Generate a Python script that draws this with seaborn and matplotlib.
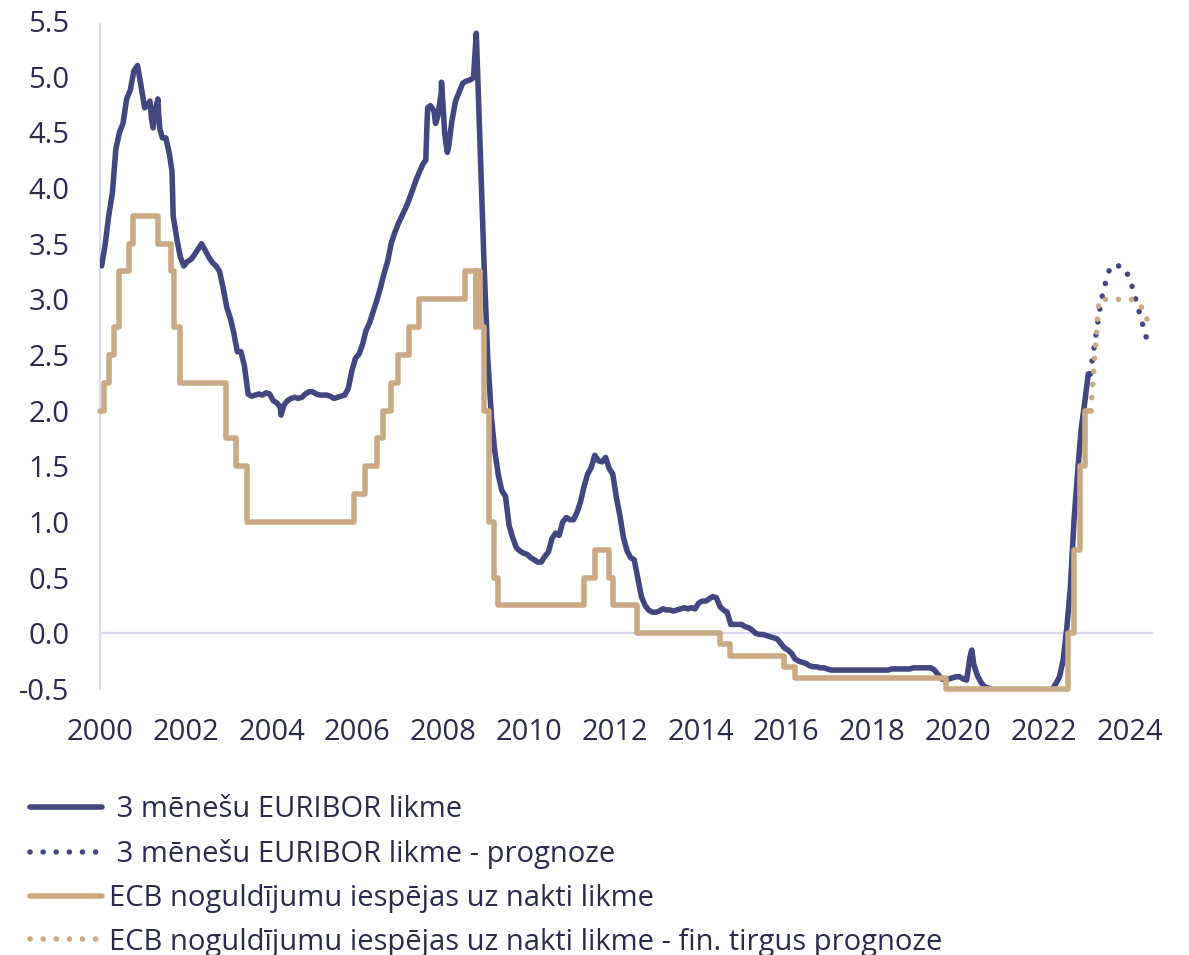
import matplotlib

matplotlib.use("Agg")
import matplotlib.dates as mdates
import matplotlib.pyplot as plt
import pandas as pd
import seaborn as sns
from matplotlib.ticker import FixedLocator, FuncFormatter

NAVY = "#43477f"
TAN = "#c9aa84"
TEXT = "#2b2c4c"
AXIS = "#d9d9ef"

# 3M EURIBOR, monthly (mid-month) readings, Jan 2000 .. Jan 2023
euribor_3m = [
    3.30, 3.50, 3.75, 3.95, 4.35, 4.50, 4.58, 4.80, 4.88, 5.05, 5.10, 4.92,  # 2000
    4.72, 4.76, 4.62, 4.70, 4.65, 4.45, 4.45, 4.30, 3.75, 3.55, 3.38, 3.30,  # 2001
    3.34, 3.36, 3.40, 3.45, 3.50, 3.44, 3.38, 3.33, 3.30, 3.25, 3.10, 2.93,  # 2002
    2.83, 2.69, 2.53, 2.53, 2.40, 2.15, 2.13, 2.14, 2.15, 2.14, 2.16, 2.15,  # 2003
    2.09, 2.07, 2.03, 2.05, 2.09, 2.11, 2.12, 2.11, 2.12, 2.15, 2.17, 2.17,  # 2004
    2.15, 2.14, 2.14, 2.14, 2.13, 2.11, 2.12, 2.13, 2.14, 2.20, 2.36, 2.47,  # 2005
    2.51, 2.60, 2.72, 2.79, 2.89, 2.99, 3.10, 3.23, 3.34, 3.50, 3.60, 3.68,  # 2006
    3.75, 3.82, 3.89, 3.98, 4.07, 4.15, 4.22, 4.54, 4.74, 4.69, 4.64, 4.85,  # 2007
    4.48, 4.36, 4.60, 4.78, 4.86, 4.94, 4.96, 4.97, 4.99, 5.20, 4.24, 3.29,  # 2008
    2.46, 1.94, 1.64, 1.42, 1.28, 1.23, 0.97, 0.86, 0.77, 0.74, 0.72, 0.71,  # 2009
    0.68, 0.66, 0.64, 0.64, 0.69, 0.73, 0.85, 0.90, 0.88, 1.00, 1.04, 1.02,  # 2010
    1.02, 1.09, 1.18, 1.32, 1.43, 1.49, 1.60, 1.55, 1.54, 1.58, 1.48, 1.43,  # 2011
    1.22, 1.05, 0.86, 0.74, 0.68, 0.66, 0.50, 0.33, 0.25, 0.21, 0.19, 0.19,  # 2012
    0.20, 0.22, 0.21, 0.21, 0.20, 0.21, 0.22, 0.23, 0.22, 0.23, 0.22, 0.27,  # 2013
    0.29, 0.29, 0.31, 0.33, 0.32, 0.24, 0.21, 0.19, 0.08, 0.08, 0.08, 0.08,  # 2014
    0.06, 0.05, 0.03, 0.00, -0.01, -0.01, -0.02, -0.03, -0.04, -0.05, -0.09, -0.13,  # 2015
    -0.15, -0.18, -0.23, -0.25, -0.26, -0.27, -0.29, -0.30, -0.30, -0.31, -0.31, -0.32,  # 2016
    -0.33, -0.33, -0.33, -0.33, -0.33, -0.33, -0.33, -0.33, -0.33, -0.33, -0.33, -0.33,  # 2017
    -0.33, -0.33, -0.33, -0.33, -0.33, -0.32, -0.32, -0.32, -0.32, -0.32, -0.32, -0.31,  # 2018
    -0.31, -0.31, -0.31, -0.31, -0.31, -0.33, -0.37, -0.41, -0.42, -0.41, -0.40, -0.39,  # 2019
    -0.39, -0.41, -0.42, -0.20, -0.28, -0.38, -0.44, -0.48, -0.49, -0.51, -0.52, -0.54,  # 2020
    -0.55, -0.54, -0.54, -0.54, -0.54, -0.54, -0.54, -0.55, -0.55, -0.55, -0.57, -0.58,  # 2021
    -0.56, -0.53, -0.50, -0.45, -0.39, -0.24, 0.04, 0.40, 1.01, 1.43, 1.83, 2.07,  # 2022
    2.33,  # 2023
]

# short-lived moves the monthly readings miss
spike_dates = ["2001-03-01", "2001-03-28", "2001-05-08", "2001-05-25", "2001-09-05",
               "2004-03-22", "2007-08-06", "2007-08-22", "2007-10-28", "2007-12-18",
               "2008-02-05", "2008-10-09", "2020-04-28", "2023-01-31"]
spike_values = [4.78, 4.54, 4.80, 4.53, 4.15,
                1.96, 4.25, 4.72, 4.58, 4.95,
                4.32, 5.39, -0.15, 2.33]

euribor_fc_dates = ["2023-01-31", "2023-05-01", "2023-06-20", "2023-07-25",
                    "2023-10-25", "2024-01-01", "2024-06-20"]
euribor_fc_values = [2.33, 2.97, 3.19, 3.30, 3.30, 3.20, 2.55]

# ECB deposit facility rate, change dates
ecb_dates = [
    "2000-01-01", "2000-02-04", "2000-03-17", "2000-04-28", "2000-06-09", "2000-09-01",
    "2000-10-06", "2001-05-11", "2001-08-31", "2001-09-18", "2001-11-09", "2002-12-06",
    "2003-03-07", "2003-06-06", "2005-12-06", "2006-03-08", "2006-06-15", "2006-08-09",
    "2006-10-11", "2006-12-13", "2007-03-14", "2007-06-13", "2008-07-09", "2008-10-08",
    "2008-10-09", "2008-11-12", "2008-12-10", "2009-01-21", "2009-03-11", "2009-04-08",
    "2011-04-13", "2011-07-13", "2011-11-09", "2011-12-14", "2012-07-11", "2014-06-11",
    "2014-09-10", "2015-12-09", "2016-03-16", "2019-09-18", "2022-07-27", "2022-09-14",
    "2022-11-02", "2022-12-21", "2023-02-05",
]
ecb_rate = [
    2.00, 2.25, 2.50, 2.75, 3.25, 3.50,
    3.75, 3.50, 3.25, 2.75, 2.25, 1.75,
    1.50, 1.00, 1.25, 1.50, 1.75, 2.00,
    2.25, 2.50, 2.75, 3.00, 3.25, 2.75,
    3.25, 2.75, 2.00, 1.00, 0.50, 0.25,
    0.50, 0.75, 0.50, 0.25, 0.00, -0.10,
    -0.20, -0.30, -0.40, -0.50, 0.00, 0.75,
    1.50, 2.00, 2.00,
]

ecb_fc_dates = ["2023-02-05", "2023-04-16", "2024-02-05", "2024-04-20", "2024-07-08"]
ecb_fc_values = [2.00, 3.00, 3.00, 2.92, 2.72]

year_ticks = list(range(2000, 2026, 2))
y_ticks = [-0.5, 0.0, 0.5, 1.0, 1.5, 2.0, 2.5, 3.0, 3.5, 4.0, 4.5, 5.0, 5.5]

labels = [
    " 3 mēnešu EURIBOR likme",
    " 3 mēnešu EURIBOR likme - prognoze",
    "ECB noguldījumu iespējas uz nakti likme",
    "ECB noguldījumu iespējas uz nakti likme - fin. tirgus prognoze",
]


def build_frames():
    monthly = pd.DataFrame({
        "date": pd.date_range("2000-01-01", periods=len(euribor_3m), freq="MS")
        + pd.Timedelta(days=14),
        "rate": euribor_3m,
    })
    spikes = pd.DataFrame({"date": pd.to_datetime(spike_dates), "rate": spike_values})
    euribor = pd.concat([monthly, spikes]).sort_values("date").reset_index(drop=True)

    euribor_fc = pd.DataFrame({"date": pd.to_datetime(euribor_fc_dates), "rate": euribor_fc_values})
    ecb = pd.DataFrame({"date": pd.to_datetime(ecb_dates), "rate": ecb_rate})
    ecb_fc = pd.DataFrame({"date": pd.to_datetime(ecb_fc_dates), "rate": ecb_fc_values})
    return euribor, euribor_fc, ecb, ecb_fc


def main():
    sns.set_theme(style="white")
    plt.rcParams["font.family"] = ["Open Sans", "DejaVu Sans"]

    euribor, euribor_fc, ecb, ecb_fc = build_frames()

    fig = plt.figure(figsize=(11.89, 9.55), dpi=100)
    ax = fig.add_axes([100 / 1189, 1 - 689 / 955, 1053 / 1189, 668 / 955])

    lw = 4.0
    dots = (0, (0.01, 2.35))

    ax.axhline(0, color=AXIS, lw=1.6, zorder=1)

    sns.lineplot(data=euribor, x="date", y="rate", ax=ax, color=NAVY, lw=lw,
                 estimator=None, sort=False, label=labels[0], zorder=3)
    sns.lineplot(data=euribor_fc, x="date", y="rate", ax=ax, color=NAVY, lw=lw,
                 estimator=None, sort=False, label=labels[1], zorder=3,
                 linestyle=dots, dash_capstyle="round")
    sns.lineplot(data=ecb, x="date", y="rate", ax=ax, color=TAN, lw=lw,
                 estimator=None, sort=False, drawstyle="steps-post",
                 label=labels[2], zorder=4, clip_on=False)
    sns.lineplot(data=ecb_fc, x="date", y="rate", ax=ax, color=TAN, lw=lw,
                 estimator=None, sort=False, label=labels[3], zorder=4,
                 linestyle=dots, dash_capstyle="round")

    ax.set_xlim(pd.Timestamp("2000-01-01"), pd.Timestamp("2024-07-19"))
    ax.set_ylim(-0.5, 5.5)

    ax.xaxis.set_major_locator(FixedLocator([mdates.date2num(pd.Timestamp(f"{y}-01-01")) for y in year_ticks]))
    ax.xaxis.set_major_formatter(mdates.DateFormatter("%Y"))
    ax.yaxis.set_major_locator(FixedLocator(y_ticks))
    ax.yaxis.set_major_formatter(FuncFormatter(lambda v, _: f"{v:.1f}"))

    ax.tick_params(axis="both", length=0, labelsize=21, labelcolor=TEXT)
    ax.tick_params(axis="y", pad=22)
    ax.tick_params(axis="x", pad=21)
    ax.set_xlabel("")
    ax.set_ylabel("")
    ax.grid(False)
    for side in ["top", "right", "bottom"]:
        ax.spines[side].set_visible(False)
    ax.spines["left"].set_color(AXIS)
    ax.spines["left"].set_linewidth(1.6)
    ax.spines["left"].set_bounds(-0.5, 5.47)

    handles, _ = ax.get_legend_handles_labels()
    ax.get_legend().remove()
    leg = fig.legend(handles, labels, loc="upper left", bbox_to_anchor=(30 / 1189, 1 - 795 / 955),
                     frameon=False, fontsize=21, labelcolor=TEXT, handlelength=2.47,
                     handletextpad=0.24, labelspacing=0.51, borderpad=0, borderaxespad=0)
    for line in leg.get_lines():
        line.set_linewidth(lw)

    fig.savefig("out.png", dpi=100)


if __name__ == "__main__":
    main()
